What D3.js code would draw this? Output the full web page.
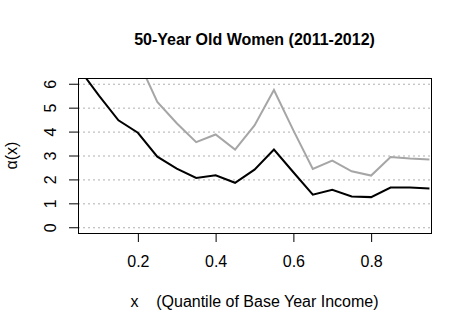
<!DOCTYPE html>
<html>
<head>
<meta charset="utf-8">
<script src="https://cdn.jsdelivr.net/npm/d3@7"></script>
<style>
  body { margin: 0; background: #fff; }
  text { font-family: "Liberation Sans", Arial, sans-serif; }
</style>
</head>
<body>
<svg id="drawing_region"></svg>
<script>
// quantiles of base year income
const quantiles = [0.05, 0.10, 0.15, 0.20, 0.25, 0.30, 0.35, 0.40, 0.45, 0.50,
                   0.55, 0.60, 0.65, 0.70, 0.75, 0.80, 0.85, 0.90, 0.95];
// alpha(x) estimates
const alphaBlack = [6.6, 5.5, 4.47, 3.95, 2.95, 2.45, 2.06, 2.17, 1.86, 2.41,
                    3.25, 2.3, 1.36, 1.57, 1.29, 1.26, 1.66, 1.66, 1.62];
const alphaGray = [11.7, 9.7, 7.9, 7.0, 5.24, 4.35, 3.56, 3.88, 3.25, 4.26,
                   5.74, 4.05, 2.44, 2.79, 2.34, 2.16, 2.94, 2.87, 2.83];
const xTicks = [0.2, 0.4, 0.6, 0.8];
const yTicks = [0, 1, 2, 3, 4, 5, 6];

const width = 472, height = 331;
const margin = {top: 78, right: 41, bottom: 98, left: 78};
const w = width - margin.left - margin.right;
const h = height - margin.top - margin.bottom;

const svg = d3.select('#drawing_region')
    .attr('width', width)
    .attr('height', height);

const g = svg.append('g')
    .attr('transform', `translate(${margin.left},${margin.top})`);

const x = d3.scaleLinear().domain([0.046, 0.954]).range([0, w]);
const y = d3.scaleLinear().domain([-0.24, 6.24]).range([h, 0]);

g.append('clipPath').attr('id', 'clip')
  .append('rect').attr('width', w).attr('height', h);

// grid
g.selectAll('.grid')
    .data(yTicks)
    .enter()
    .append('line')
    .attr('x1', 0).attr('x2', w)
    .attr('y1', d => y(d) + 0.5).attr('y2', d => y(d) + 0.5)
    .attr('stroke', '#b0b0b0')
    .attr('stroke-width', 1)
    .attr('stroke-dasharray', '2,3');

const line = d3.line()
    .x((d, i) => x(quantiles[i]))
    .y(d => y(d));

g.append('path')
    .datum(alphaGray)
    .attr('d', line)
    .attr('fill', 'none')
    .attr('stroke', '#a6a6a6')
    .attr('stroke-width', 2)
    .attr('clip-path', 'url(#clip)');

g.append('path')
    .datum(alphaBlack)
    .attr('d', line)
    .attr('fill', 'none')
    .attr('stroke', '#000')
    .attr('stroke-width', 2)
    .attr('clip-path', 'url(#clip)');

g.append('rect')
    .attr('x', 0.5).attr('y', 0.5)
    .attr('width', w).attr('height', h)
    .attr('fill', 'none')
    .attr('stroke', '#000')
    .attr('stroke-width', 1);

// x axis
const xAxis = d3.axisBottom(x).tickValues(xTicks).tickSize(9).tickPadding(14)
    .tickFormat(d3.format('.1f'));
g.append('g')
    .attr('transform', `translate(0,${h})`)
    .call(xAxis)
    .call(a => a.select('.domain').remove())
    .call(a => a.selectAll('text').attr('font-size', 16).attr('fill', '#000')
        .attr('font-family', '"Liberation Sans", Arial, sans-serif'));

// y axis
const yAxis = d3.axisLeft(y).tickValues(yTicks).tickSize(9).tickFormat(d3.format('d'));
const ya = g.append('g').call(yAxis);
ya.select('.domain').remove();
ya.selectAll('text')
    .attr('x', null).attr('dy', null)
    .attr('text-anchor', 'middle')
    .attr('transform', 'translate(-22,0) rotate(-90)')
    .attr('font-size', 16).attr('fill', '#000')
    .attr('font-family', '"Liberation Sans", Arial, sans-serif');

// title
svg.append('text')
    .attr('x', margin.left + w / 2)
    .attr('y', 45)
    .attr('text-anchor', 'middle')
    .attr('font-size', 16)
    .attr('font-weight', 'bold')
    .text('50-Year Old Women (2011-2012)');

svg.append('text')
    .attr('x', margin.left + w / 2)
    .attr('y', 307)
    .attr('text-anchor', 'middle')
    .attr('font-size', 16)
    .attr('xml:space', 'preserve')
    .style('white-space', 'pre')
    .text('x    (Quantile of Base Year Income)');

svg.append('text')
    .attr('transform', `translate(17,${margin.top + h / 2}) rotate(-90)`)
    .attr('text-anchor', 'middle')
    .attr('font-size', 16)
    .text('α(x)');
</script>
</body>
</html>
